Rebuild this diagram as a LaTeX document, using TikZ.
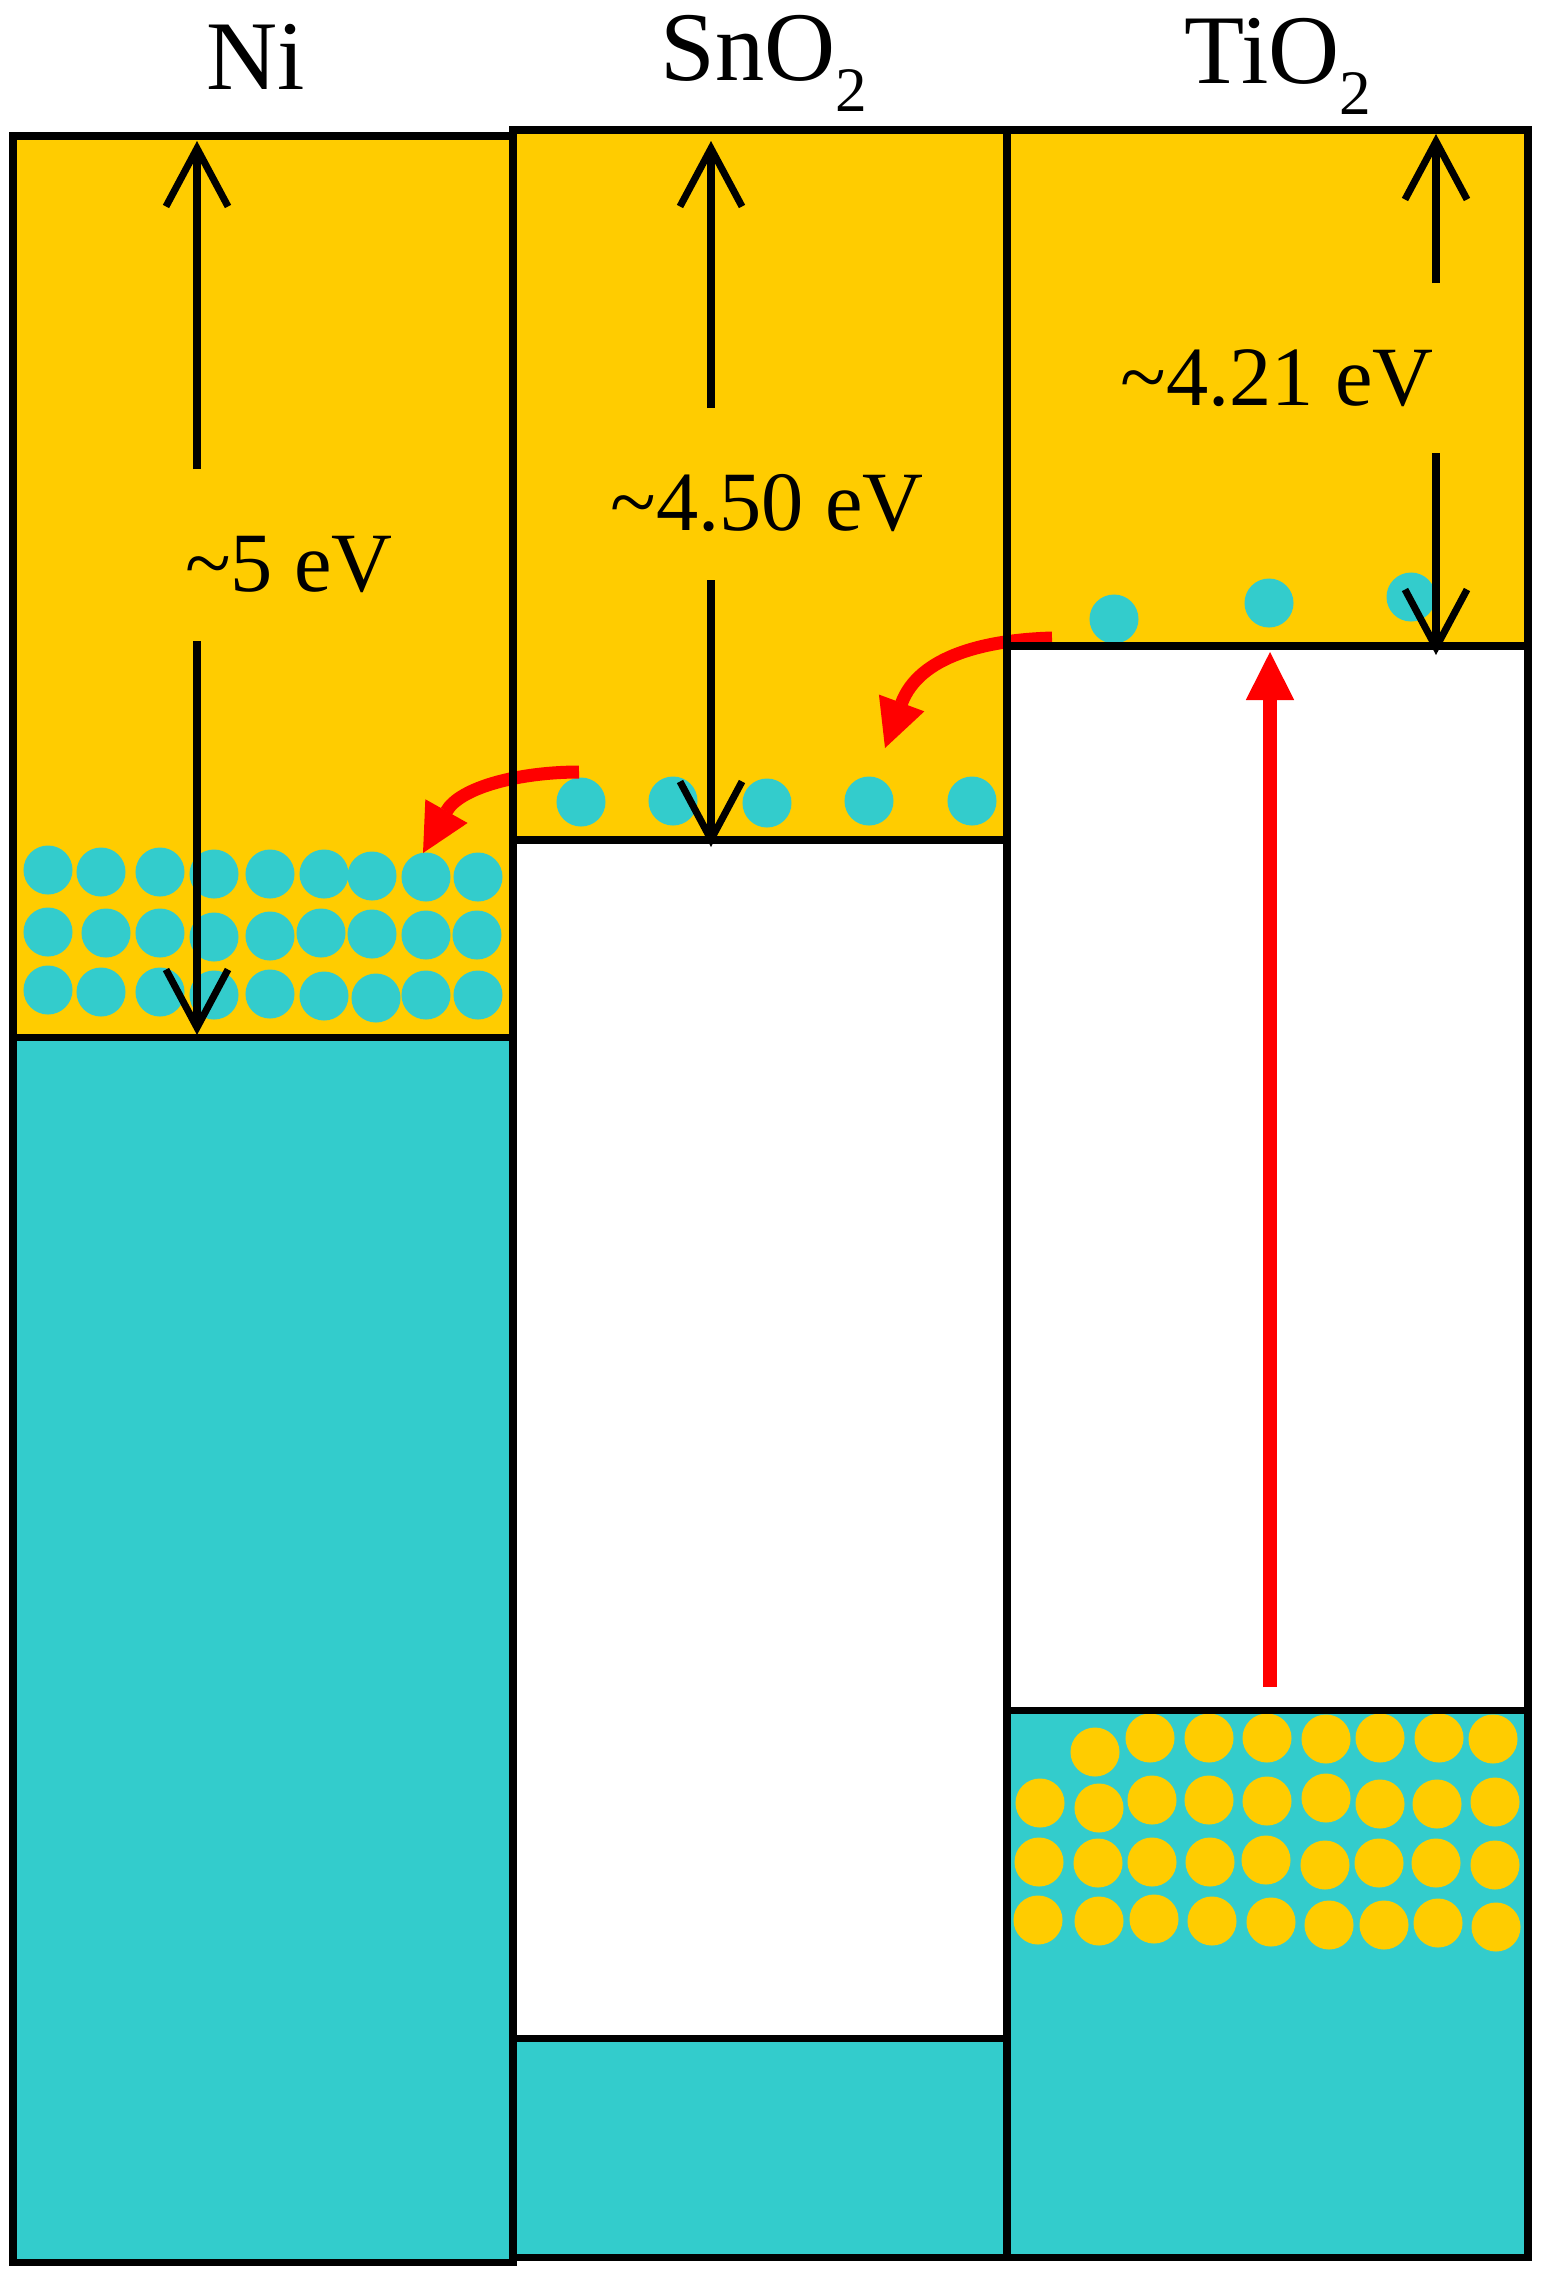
\documentclass[tikz,border=0pt]{standalone}
\usepackage{fontspec}
\setmainfont{Liberation Serif}
\usepackage{xcolor}
\usepackage{tikz}
\usetikzlibrary{arrows.meta}

\definecolor{bandgold}{RGB}{255,204,0}
\definecolor{bandcyan}{RGB}{51,204,204}
\newcommand{\subtwo}{\raisebox{-9pt}{\fontsize{18}{18}\selectfont 2}}

\begin{document}
\begin{tikzpicture}[x=0.01cm, y=-0.01cm,
    band/.style={draw=black, line width=2pt},
    electron/.style={fill=bandcyan},
    hole/.style={fill=bandgold},
    gap arrow/.style={black, line width=2pt, -{Straight Barb[length=0.58cm, width=0.62cm]}},
    transfer/.style={red, line width=3.7pt, -{Triangle[length=0.48cm, width=0.48cm, line width=0.5pt]}},
    title/.style={anchor=base, font=\fontsize{28}{34}\selectfont},
    energy/.style={anchor=base, font=\fontsize{24}{29}\selectfont}]
    \useasboundingbox (0,0) rectangle (1547,2278);

    % Bands: x1/y1/x2/y2/colour (Ni, SnO2, TiO2)
    \def\bands{13/136/513/1037/bandgold, 13/1037/513/2262/bandcyan,
        513/130/1007/840/bandgold, 513/840/1007/2038/white, 513/2038/1007/2257/bandcyan,
        1007/130/1528/646/bandgold, 1007/646/1528/1710/white, 1007/1710/1528/2257/bandcyan}

    \foreach \xa/\ya/\xb/\yb/\col in \bands {
        \fill[\col] (\xa,\ya) rectangle (\xb,\yb);
    }

    % Electrons in Ni
    \foreach \x/\y in {48/870, 101/872, 160/872, 214/874, 270/874, 324/874, 372/876, 426/877, 478/877,
                       48/932, 106/933, 160/933, 214/937, 270/936, 321/933, 372/934, 426/935, 477/935,
                       48/990, 101/992, 160/992, 214/995, 270/994, 324/996, 376/998, 426/995, 478/995} {
        \fill[electron] (\x,\y) circle[radius=0.245cm];
    }

    % Electrons in SnO2 and TiO2 conduction bands
    \foreach \x/\y in {581/802, 673/801, 767/803, 869/801, 972/801, 1114/619, 1269/603, 1411/597} {
        \fill[electron] (\x,\y) circle[radius=0.245cm];
    }

    % Holes in TiO2 valence band
    \foreach \x/\y in {1095/1752, 1150/1738, 1209/1738, 1267/1738, 1326/1739, 1380/1738, 1439/1738, 1493/1739,
                       1040/1803, 1099/1808, 1152/1800, 1209/1800, 1267/1801, 1326/1798, 1380/1804, 1437/1804, 1495/1802,
                       1039/1862, 1098/1863, 1152/1862, 1210/1862, 1266/1860, 1325/1865, 1379/1863, 1436/1863, 1495/1865,
                       1038/1920, 1099/1921, 1154/1919, 1212/1921, 1271/1922, 1329/1925, 1384/1925, 1438/1923, 1496/1927} {
        \fill[hole] (\x,\y) circle[radius=0.245cm];
    }

    % Excitation and electron transfer
    \coordinate (tio-vb) at (1270,1687);
    \coordinate (tio-cb) at (1270,652);
    \coordinate (tio-e)  at (1052,638);
    \coordinate (sno-in) at (885,748);
    \coordinate (sno-e)  at (579,772);
    \coordinate (ni-in)  at (423,853);

    \draw[transfer, line width=4pt] (tio-vb) -- (tio-cb);
    \draw[transfer] (tio-e) .. controls (985,640) and (919,656) .. (sno-in);
    \draw[transfer] (sno-e) .. controls (520,772) and (460,787) .. (ni-in);

    % Band outlines
    \foreach \xa/\ya/\xb/\yb/\col in \bands {
        \draw[band] (\xa,\ya) rectangle (\xb,\yb);
    }

    % Work function arrows
    \coordinate (ni-vac)  at (197,141);
    \coordinate (ni-up)   at (197,469);
    \coordinate (ni-dn)   at (197,641);
    \coordinate (ni-ef)   at (197,1035);
    \coordinate (sno-vac) at (711,141);
    \coordinate (sno-up)  at (711,408);
    \coordinate (sno-dn)  at (711,580);
    \coordinate (sno-ef)  at (711,847);
    \coordinate (tio-vac) at (1436,134);
    \coordinate (tio-up)  at (1436,283);
    \coordinate (tio-dn)  at (1436,453);
    \coordinate (tio-ef)  at (1436,655);

    \draw[gap arrow] (ni-up) -- (ni-vac);
    \draw[gap arrow] (ni-dn) -- (ni-ef);
    \draw[gap arrow] (sno-up) -- (sno-vac);
    \draw[gap arrow] (sno-dn) -- (sno-ef);
    \draw[gap arrow] (tio-up) -- (tio-vac);
    \draw[gap arrow] (tio-dn) -- (tio-ef);

    % Labels
    \node[title] (ni)  at (256,89) {Ni};
    \node[title] (sno) at (764,80) {SnO\subtwo};
    \node[title] (tio) at (1278,83) {TiO\subtwo};

    \node[energy] (ni-wf)  at (289,591) {\textasciitilde 5 eV};
    \node[energy] (sno-wf) at (767,530) {\textasciitilde 4.50 eV};
    \node[energy] (tio-wf) at (1277,405) {\textasciitilde 4.21 eV};
\end{tikzpicture}
\end{document}
